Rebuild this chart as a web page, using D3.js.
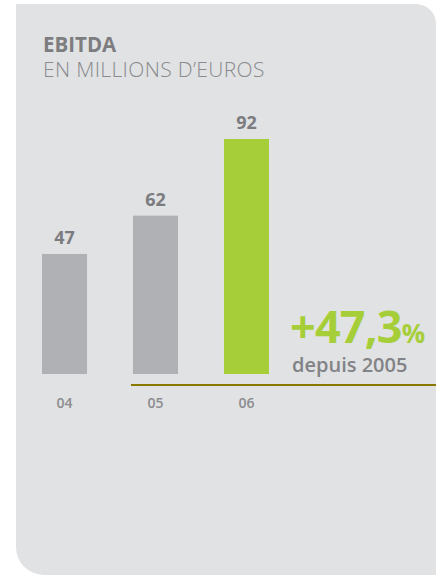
<!DOCTYPE html>
<html>
<head>
<meta charset="utf-8">
<script src="https://cdn.jsdelivr.net/npm/d3@7"></script>
<style>
body { margin: 0; background: #fff; }
svg { display: block; }
text { font-family: "Open Sans", sans-serif; }
</style>
</head>
<body>
<div class="chart"></div>
<script>
var years  = ["04", "05", "06"];
var ebitda = [47, 62, 92];
var colors = ["#b0b1b4", "#b0b1b4", "#a6ce39"];
var growthValue = "+47,3";
var growthUnit  = "%";
var growthNote  = "depuis 2005";

var width  = 436;
var height = 575;

var svg = d3.select(".chart").append("svg").attr("width", width).attr("height", height);

// panel, square top-left, rounded top-right and bottom-left
var px = 16, py = 4, pr = 20, pb = 575, rb = 28;
svg.append("path")
	.attr("d", "M" + px + "," + py + " H" + (width - pr) + " A" + pr + "," + pr + " 0 0 1 " + width + "," + (py + pr) +
		" V" + (pb + 20) + " H" + (px + rb) + " V" + pb + " A" + rb + "," + rb + " 0 0 1 " + px + "," + (pb - rb) + " Z")
	.attr("fill", "#e1e2e4");

// clip off the bottom so only the rounded bottom-left shows
svg.append("rect").attr("x", 0).attr("y", pb).attr("width", width).attr("height", 20).attr("fill", "#fff");

svg.append("text").attr("x", 43).attr("y", 52)
	.attr("font-size", 20.5).attr("font-weight", 700).attr("fill", "#7d7d80")
	.text("EBITDA");
svg.append("text").attr("x", 43).attr("y", 77)
	.attr("font-size", 21).attr("font-weight", 300).attr("letter-spacing", 0.35).attr("fill", "#8a8b8e")
	.text("EN MILLIONS D\u2019EUROS");

var x = d3.scaleBand().domain(years).range([42, 269]).paddingInner(0.505).paddingOuter(0);
var y = d3.scaleLinear().domain([0, 92]).range([374, 139]);

svg.selectAll(".bar").data(years).enter().append("rect")
	.attr("class", "bar")
	.attr("x", function(d) { return x(d); })
	.attr("width", x.bandwidth())
	.attr("y", function(d, i) { return y(ebitda[i]); })
	.attr("height", function(d, i) { return y(0) - y(ebitda[i]); })
	.attr("fill", function(d, i) { return colors[i]; });

svg.selectAll(".val").data(years).enter().append("text")
	.attr("class", "val")
	.attr("x", function(d) { return x(d) + x.bandwidth() / 2; })
	.attr("y", function(d, i) { return y(ebitda[i]) - 10; })
	.attr("text-anchor", "middle")
	.attr("font-size", 18).attr("font-weight", 700).attr("fill", "#7b7c7f")
	.text(function(d, i) { return ebitda[i]; });

// olive baseline from 2005 onwards
svg.append("line")
	.attr("x1", x("05") - 2).attr("x2", width)
	.attr("y1", 385).attr("y2", 385)
	.attr("stroke", "#8a7800").attr("stroke-width", 2);

var axis = svg.append("g").attr("transform", "translate(0,398)")
	.call(d3.axisBottom(x).tickSize(0).tickPadding(0));
axis.select(".domain").remove();
axis.selectAll("text")
	.style("font-family", "'Open Sans', sans-serif")
	.attr("font-size", 14).attr("font-weight", 600).attr("fill", "#8b8c8f");

// growth callout
var g = svg.append("text").attr("x", 290).attr("y", 343).attr("fill", "#a6ce39").attr("font-weight", 700);
g.append("tspan").attr("font-size", 45).attr("letter-spacing", -0.8).text(growthValue);
g.append("tspan").attr("font-size", 26).text(growthUnit);

svg.append("text").attr("x", 292).attr("y", 372)
	.attr("font-size", 20).attr("font-weight", 600).attr("fill", "#828386")
	.text(growthNote);
</script>
</body>
</html>
